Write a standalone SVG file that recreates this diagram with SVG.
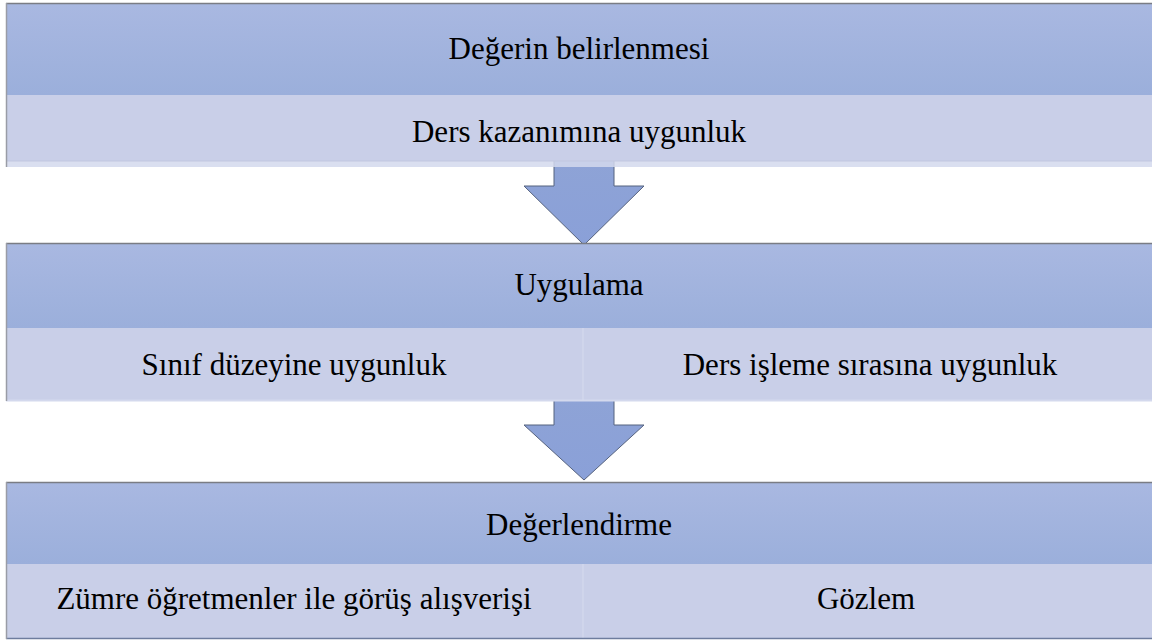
<svg xmlns="http://www.w3.org/2000/svg" width="1152" height="641" viewBox="0 0 1152 641">
  <defs>
    <linearGradient id="hdr" x1="0" y1="0" x2="0" y2="1">
      <stop offset="0" stop-color="#a9b8e1"/>
      <stop offset="1" stop-color="#9bafdb"/>
    </linearGradient>
    <linearGradient id="arw" x1="0" y1="0" x2="0" y2="1">
      <stop offset="0" stop-color="#8ea3d6"/>
      <stop offset="1" stop-color="#8aa0d8"/>
    </linearGradient>
    <style>
      .hdr { fill: url(#hdr); }
      .sub { fill: #c9cfe8; }
      .strip { fill: #d4d9ed; opacity: 0.85; }
      .edge { stroke: #7a7c84; stroke-width: 1.5; fill: none; }
      .side { stroke: #9a9ca6; stroke-width: 1.5; fill: none; }
      .cell { stroke: #d6dbee; stroke-width: 1; }
      .arrow { fill: url(#arw); stroke: #55627e; stroke-width: 1; }
      .lbl { font-family: 'Liberation Serif', 'Times New Roman', Times, serif; font-size: 31px; fill: #000; text-anchor: middle; }
    </style>
  </defs>

  <!-- connectors: block arrows between the steps -->
  <g id="connectors">
    <polygon class="arrow" points="554,160 614,160 614,186 644,186 584,245 524,186 554,186"/>
    <polygon class="arrow" points="554,400 614,400 614,425 644,425 584,480 524,425 554,425"/>
  </g>

  <!-- step 1 -->
  <g id="step1">
    <rect class="hdr" x="6" y="3" width="1146" height="92"/>
    <rect class="sub" x="6" y="95" width="1146" height="66"/>
    <rect class="strip" x="6" y="161" width="1146" height="6"/>
    <line x1="6" y1="161" x2="1152" y2="161" stroke="#c1c7e0" stroke-width="1"/>
    <line class="edge" x1="6" y1="3.5" x2="1152" y2="3.5"/>
    <line class="side" x1="6.5" y1="3" x2="6.5" y2="167"/>
    <text class="lbl" x="579" y="59">Değerin belirlenmesi</text>
    <text class="lbl" x="579" y="142">Ders kazanımına uygunluk</text>
  </g>

  <!-- step 2 -->
  <g id="step2">
    <rect class="hdr" x="6" y="243" width="1146" height="85"/>
    <rect class="sub" x="6" y="328" width="1146" height="72"/>
    <line x1="6" y1="400.5" x2="1152" y2="400.5" stroke="#d4d9ed" stroke-width="2"/>
    <line class="cell" x1="583" y1="328" x2="583" y2="400"/>
    <line class="edge" x1="6" y1="243.5" x2="1152" y2="243.5"/>
    <line class="side" x1="6.5" y1="243" x2="6.5" y2="401"/>
    <text class="lbl" x="579" y="295">Uygulama</text>
    <text class="lbl" x="294" y="375">Sınıf düzeyine uygunluk</text>
    <text class="lbl" x="870" y="375">Ders işleme sırasına uygunluk</text>
  </g>

  <!-- step 3 -->
  <g id="step3">
    <rect class="hdr" x="6" y="482" width="1146" height="82"/>
    <rect class="sub" x="6" y="564" width="1146" height="74"/>
    <line class="cell" x1="583" y1="564" x2="583" y2="638"/>
    <line class="edge" x1="6" y1="482.5" x2="1152" y2="482.5"/>
    <line x1="6" y1="638.5" x2="1152" y2="638.5" stroke="#6e7d9e" stroke-width="1.5"/>
    <line class="side" x1="6.5" y1="482" x2="6.5" y2="639"/>
    <text class="lbl" x="579" y="535">Değerlendirme</text>
    <text class="lbl" x="294" y="609">Zümre öğretmenler ile görüş alışverişi</text>
    <text class="lbl" x="866" y="609">Gözlem</text>
  </g>
</svg>
